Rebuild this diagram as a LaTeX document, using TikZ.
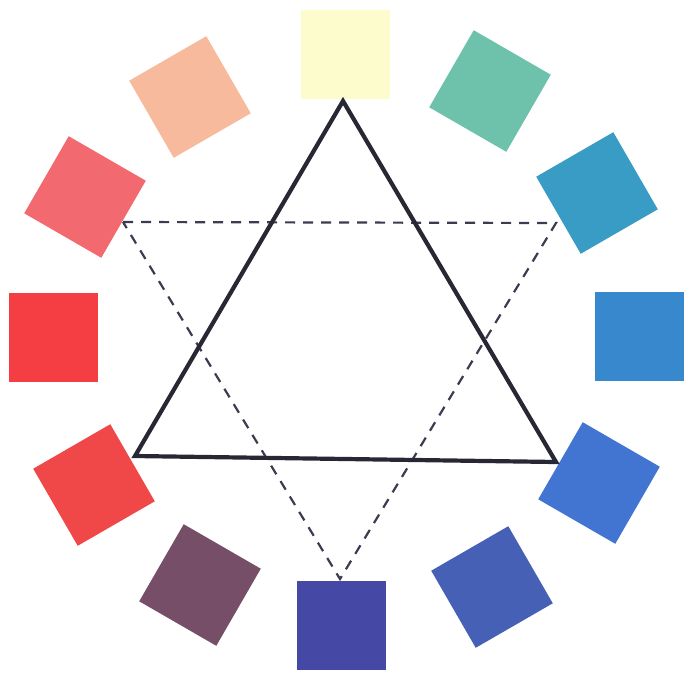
\documentclass[tikz,border=0pt]{standalone}
\begin{document}
\begin{tikzpicture}[x=1pt,y=-1pt,
  swatch/.style={draw=none,rectangle,minimum size=89pt,inner sep=0pt},
  solidtri/.style={draw=lineA,line width=4.2pt,line join=miter},
  dashtri/.style={draw=lineB,line width=2.2pt,dash pattern=on 10pt off 8pt}]
\definecolor{lineA}{RGB}{40,40,52}
\definecolor{lineB}{RGB}{60,60,80}
\useasboundingbox (0,0) rectangle (684,672);
\definecolor{cY}{RGB}{253,252,205}
\definecolor{cTG}{RGB}{110,194,172}
\definecolor{cTB}{RGB}{56,156,196}
\definecolor{cB}{RGB}{56,136,206}
\definecolor{cLB}{RGB}{66,116,210}
\definecolor{cDB}{RGB}{70,96,182}
\definecolor{cI}{RGB}{70,72,166}
\definecolor{cBr}{RGB}{118,78,104}
\definecolor{cLR}{RGB}{240,72,72}
\definecolor{cR}{RGB}{245,62,68}
\definecolor{cSR}{RGB}{242,106,112}
\definecolor{cP}{RGB}{248,186,156}
\node[swatch,fill=cY] (sY) at (345,54) {};
\node[swatch,fill=cTG,rotate=-30] (sTG) at (490,91) {};
\node[swatch,fill=cTB,rotate=-60] (sTB) at (597,193) {};
\node[swatch,fill=cB] (sB) at (639,336) {};
\node[swatch,fill=cLB,rotate=60] (sLB) at (599,483) {};
\node[swatch,fill=cDB,rotate=30] (sDB) at (492,587) {};
\node[swatch,fill=cI] (sI) at (341,625) {};
\node[swatch,fill=cBr,rotate=-30] (sBr) at (200,585) {};
\node[swatch,fill=cLR,rotate=-60] (sLR) at (94,485) {};
\node[swatch,fill=cR] (sR) at (53,337) {};
\node[swatch,fill=cSR,rotate=60] (sSR) at (85,197) {};
\node[swatch,fill=cP,rotate=30] (sP) at (190,97) {};
\coordinate (a1) at (343,101);
\coordinate (a2) at (135,456);
\coordinate (a3) at (556,462);
\coordinate (b1) at (123,222);
\coordinate (b2) at (556,223);
\coordinate (b3) at (340,579);
\draw[dashtri] (b1) -- (b2) -- (b3) -- cycle;
\draw[solidtri] (a1) -- (a3) -- (a2) -- cycle;
\end{tikzpicture}
\end{document}
